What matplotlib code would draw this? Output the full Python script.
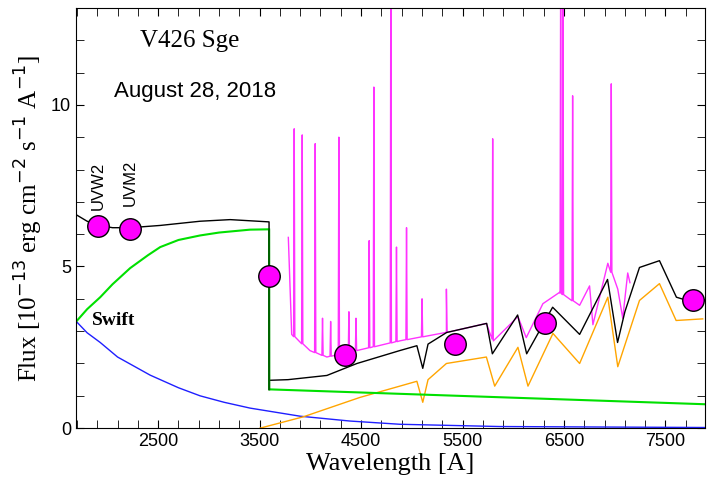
import matplotlib
matplotlib.use("Agg")
import matplotlib.pyplot as plt
import numpy as np

# ------------------------------------------------------------
# DATA
# ------------------------------------------------------------

blue_wl = [1693, 1800, 1929, 2100, 2421, 2700, 2913, 3150, 3406, 3898,
           4390, 4882, 5866, 7884]
blue_flux = [3.30, 2.95, 2.65, 2.20, 1.64, 1.25, 1.00, 0.80, 0.62, 0.37,
             0.22, 0.12, 0.05, 0.02]

green_wl = [1693, 1800, 1929, 2050, 2224, 2400, 2520, 2700, 2913, 3100,
            3406, 3593, 3594, 7884]
green_flux = [3.30, 3.68, 4.05, 4.45, 4.95, 5.35, 5.60, 5.82, 5.96, 6.05,
              6.14, 6.15, 1.20, 0.74]

black_wl = [1693, 1800, 1909, 2050, 2224, 2520, 2913, 3210, 3593, 3594,
            3780, 4163, 4459, 4882, 5050, 5108, 5160, 5344, 5738, 5794,
            6043, 6132, 6388, 6654, 6929, 7028, 7100, 7244, 7441, 7608,
            7766, 7884]
black_flux = [6.60, 6.40, 6.28, 6.20, 6.20, 6.27, 6.40, 6.45, 6.38, 1.48,
              1.50, 1.63, 2.00, 2.40, 2.55, 1.85, 2.60, 2.96, 3.24, 2.30,
              3.50, 2.30, 3.74, 2.90, 4.60, 2.65, 3.60, 4.97, 5.18, 4.05,
              3.90, 3.95]

orange_wl = [3504, 3930, 4488, 4882, 5050, 5108, 5160, 5341, 5735, 5817,
             6046, 6145, 6391, 6654, 6932, 7030, 7244, 7441, 7605, 7867]
orange_flux = [0.00, 0.35, 0.95, 1.30, 1.45, 0.80, 1.50, 2.00, 2.20, 1.30,
               2.50, 1.30, 2.93, 2.00, 4.05, 1.90, 3.95, 4.47, 3.33, 3.38]

magenta_wl = [3783, 3816, 3996, 4163, 4459, 4882, 5341, 5735, 5804, 6046,
              6128, 6292, 6456, 6654, 6752, 6785, 6932, 7030, 7079, 7128, 7150]
magenta_flux = [5.90, 2.90, 2.40, 2.20, 2.40, 2.70, 2.96, 3.24, 2.70, 3.45,
                2.80, 3.85, 4.20, 3.80, 4.40, 3.20, 5.10, 4.30, 3.40, 4.80, 4.50]

line_wl = [3841, 3920, 4048, 4120, 4200, 4281, 4380, 4450, 4580, 4626,
           4793, 4849, 4948, 5101, 5341, 5797, 6467, 6490, 6585, 6966]
line_peak = [9.26, 9.07, 8.80, 3.40, 3.30, 9.00, 3.60, 3.40, 5.80, 10.55,
             14.0, 5.60, 6.20, 4.00, 4.30, 8.95, 14.0, 14.0, 10.28, 10.65]

swift_wl = [1909, 2224, 3593, 4341, 5423, 6309, 7776]
swift_flux = [6.25, 6.15, 4.70, 2.25, 2.60, 3.25, 3.95]

# ------------------------------------------------------------
# emission lines added on top of the magenta continuum
# ------------------------------------------------------------

mag_x = list(magenta_wl)
mag_y = list(magenta_flux)
for wl, peak in zip(line_wl, line_peak):
    base = np.interp(wl, magenta_wl, magenta_flux)
    mag_x += [wl - 6, wl, wl + 6]
    mag_y += [base, peak, base]
order = np.argsort(mag_x)
mag_x = np.array(mag_x)[order]
mag_y = np.array(mag_y)[order]

# ------------------------------------------------------------
# PLOT
# ------------------------------------------------------------

fig = plt.figure(figsize=(7.10, 4.91), dpi=100)
ax = fig.add_axes([0.107, 0.128, 0.886, 0.856])

ax.plot(blue_wl, blue_flux, color="#1f1fff", lw=1)
ax.plot(orange_wl, orange_flux, color="orange", lw=1)
ax.plot(mag_x, mag_y, color="#ff33ff", lw=1)
ax.plot(black_wl, black_flux, color="black", lw=1)
ax.plot(green_wl, green_flux, color="#00e000", lw=1.5)
ax.plot(green_wl[11:13], green_flux[11:13], color="#006000", lw=1.5)

ax.scatter(swift_wl, swift_flux, s=240, color="#ff00ff",
           edgecolors="black", linewidths=1, zorder=5)

ax.set_xlim(1690, 7890)
ax.set_ylim(0, 13)
ax.set_xticks([2500, 3500, 4500, 5500, 6500, 7500])
ax.set_xticks(np.arange(1700, 7900, 200), minor=True)
ax.set_yticks([0, 5, 10])
ax.set_yticks(np.arange(0, 14, 1), minor=True)
ax.tick_params(which="both", direction="in", top=True, right=True,
               labelsize=13, length=6)
for lab in ax.get_xticklabels() + ax.get_yticklabels():
    lab.set_family("Liberation Sans")

ax.set_xlabel("Wavelength [A]", family="Liberation Serif", fontsize=19,
              labelpad=2)
ax.set_ylabel(r"Flux [10$^{-13}$ erg cm$^{-2}$ s$^{-1}$ A$^{-1}$]",
              family="Liberation Serif", fontsize=18, labelpad=4)

ax.text(0.18, 0.92, "V426 Sge", transform=ax.transAxes,
        family="Liberation Serif", fontsize=18, ha="center", va="center")
ax.text(0.19, 0.80, "August 28, 2018", transform=ax.transAxes,
        family="Liberation Sans", fontsize=16, ha="center", va="center")
ax.text(0.06, 0.255, "Swift", transform=ax.transAxes,
        family="Liberation Serif", fontsize=14, fontweight="bold",
        ha="center", va="center")
ax.text(1909, 7.5, "UVW2", rotation=90, family="Liberation Sans",
        fontsize=12, ha="center", va="center")
ax.text(2224, 7.6, "UVM2", rotation=90, family="Liberation Sans",
        fontsize=12, ha="center", va="center")

fig.savefig("out.png", dpi=100)
